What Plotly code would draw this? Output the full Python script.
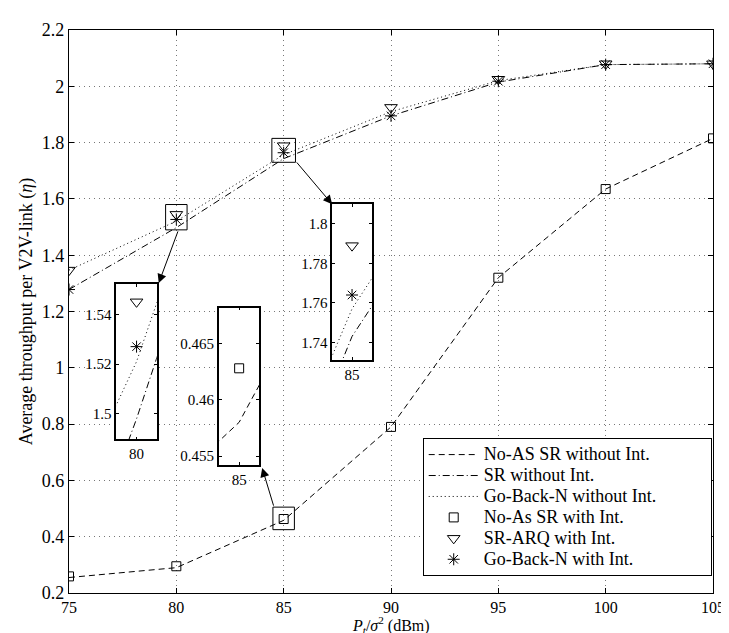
import plotly.graph_objects as go

# ---- data ----
snr_db = [75, 80, 85, 90, 95, 100, 105]
noas_sr_no_int = [0.255, 0.29, 0.458, 0.79, 1.32, 1.635, 1.815]
sr_no_int = [1.278, 1.498, 1.743, 1.895, 2.015, 2.077, 2.08]
gbn_no_int = [1.347, 1.521, 1.757, 1.91, 2.02, 2.077, 2.08]
noas_sr_int = [0.259, 0.295, 0.4628, 0.79, 1.32, 1.635, 1.815]
sr_arq_int = [1.347, 1.545, 1.789, 1.925, 2.025, 2.08, 2.08]
gbn_int = [1.278, 1.527, 1.764, 1.895, 2.018, 2.077, 2.08]

x_ticks = [75, 80, 85, 90, 95, 100, 105]
y_ticks = [0.2, 0.4, 0.6, 0.8, 1.0, 1.2, 1.4, 1.6, 1.8, 2.0, 2.2]
y_tick_text = ["0.2", "0.4", "0.6", "0.8", "1", "1.2", "1.4", "1.6", "1.8", "2", "2.2"]

insetA_yticks = [1.5, 1.52, 1.54]
insetA_ytext = ["1.5", "1.52", "1.54"]
insetB_yticks = [0.455, 0.46, 0.465]
insetB_ytext = ["0.455", "0.46", "0.465"]
insetC_yticks = [1.74, 1.76, 1.78, 1.8]
insetC_ytext = ["1.74", "1.76", "1.78", "1.8"]

legend_names = ["No-AS SR without Int.", "SR without Int.", "Go-Back-N without Int.",
                "No-As SR with Int.", "SR-ARQ with Int.", "Go-Back-N with Int."]

FONT = "Liberation Serif"
DASH = "6px,4px"
DASHDOT = "7px,3px,1px,3px"
DOT = "1px,3px"
LEG_PX = 18  # legend text size


def leg(s, pad=0):
    return '<span style="font-size:%dpx">%s%s</span>' % (LEG_PX, s, "&nbsp;" * pad)


fig = go.Figure()


def add_series(xa, ya, show):
    kw = dict(xaxis=xa, yaxis=ya, showlegend=show)
    fig.add_trace(go.Scatter(x=snr_db, y=noas_sr_no_int, mode="lines", name=leg(legend_names[0]),
                             line=dict(color="black", width=1, dash=DASH), **kw))
    fig.add_trace(go.Scatter(x=snr_db, y=sr_no_int, mode="lines", name=leg(legend_names[1]),
                             line=dict(color="black", width=1, dash=DASHDOT), **kw))
    fig.add_trace(go.Scatter(x=snr_db, y=gbn_no_int, mode="lines", name=leg(legend_names[2], 11),
                             line=dict(color="black", width=1, dash=DOT), **kw))
    fig.add_trace(go.Scatter(x=snr_db, y=noas_sr_int, mode="markers", name=leg(legend_names[3]),
                             marker=dict(symbol="square-open", size=9, color="black", line=dict(width=1)), **kw))
    fig.add_trace(go.Scatter(x=snr_db, y=sr_arq_int, mode="markers", name=leg(legend_names[4]),
                             marker=dict(symbol="triangle-down-open", size=11, color="black", line=dict(width=1)), **kw))
    fig.add_trace(go.Scatter(x=snr_db, y=gbn_int, mode="markers", name=leg(legend_names[5]),
                             marker=dict(symbol="asterisk-open", size=10, color="black", line=dict(width=1)), **kw))


add_series("x", "y", True)
add_series("x2", "y2", False)
add_series("x3", "y3", False)
add_series("x4", "y4", False)

main_ax = dict(showline=True, linecolor="black", linewidth=1.3, mirror="all", ticks="inside",
               ticklen=5, tickcolor="black", showgrid=True, gridcolor="#777777", gridwidth=1,
               griddash="1px,4px", zeroline=False, tickfont=dict(family=FONT, size=18, color="black"))

inset_ax = dict(showline=True, linecolor="black", linewidth=1.8, mirror="all", ticks="inside",
                ticklen=3, tickcolor="black", showgrid=False, zeroline=False,
                tickfont=dict(family=FONT, size=15, color="black"))

fig.update_layout(
    width=729, height=633,
    margin=dict(l=61, r=15, t=13, b=48),
    paper_bgcolor="white", plot_bgcolor="white",
    font=dict(family=FONT, color="black"),
    xaxis=dict(main_ax, range=[75, 105], tickvals=x_ticks,
               tickfont=dict(family=FONT, size=16, color="black")),
    yaxis=dict(main_ax, range=[0.2, 2.2], tickvals=y_ticks, ticktext=y_tick_text,
               title=dict(text="Average throughput per V2V-link (<i>η</i>)",
                          font=dict(family=FONT, size=18), standoff=4)),
    xaxis2=dict(inset_ax, domain=[0.0735, 0.1363], anchor="y2", range=[79.5, 80.5], tickvals=[80]),
    yaxis2=dict(inset_ax, domain=[0.2727, 0.549], anchor="x2", range=[1.4897, 1.5522],
                tickvals=insetA_yticks, ticktext=insetA_ytext),
    xaxis3=dict(inset_ax, domain=[0.2328, 0.2956], anchor="y3", range=[84.95, 85.05], tickvals=[85]),
    yaxis3=dict(inset_ax, domain=[0.2273, 0.507], anchor="x3", range=[0.4542, 0.4682],
                tickvals=insetB_yticks, ticktext=insetB_ytext),
    xaxis4=dict(inset_ax, domain=[0.4089, 0.4701], anchor="y4", range=[84.5, 85.5], tickvals=[85]),
    yaxis4=dict(inset_ax, domain=[0.4143, 0.6906], anchor="x4", range=[1.7312, 1.81],
                tickvals=insetC_yticks, ticktext=insetC_ytext),
    legend=dict(x=0.998, xanchor="right", y=0.03, yanchor="bottom", bgcolor="white",
                bordercolor="black", borderwidth=1, font=dict(family=FONT, size=13.8),
                itemwidth=50, tracegroupgap=0),
)

# x-axis title (placed as annotation to sit just below the tick labels)
fig.add_annotation(text="<i>P</i><sub><i>t</i></sub>/<i>σ</i><sup>2</sup> (dBm)", xref="paper", yref="paper",
                   x=0.5, y=-0.0778, xanchor="center", yanchor="bottom", showarrow=False,
                   borderpad=0, font=dict(family=FONT, size=16, color="black"))

# zoom rectangles on the main axes
for (x0, x1, y0, y1) in [(79.5, 80.5, 1.49, 1.58), (84.45, 85.55, 1.73, 1.815), (84.5, 85.5, 0.425, 0.505)]:
    fig.add_shape(type="rect", xref="x", yref="y", x0=x0, x1=x1, y0=y0, y1=y1,
                  line=dict(color="black", width=1), fillcolor="rgba(0,0,0,0)")

# arrows from rectangles to insets
for (tx, ty, hx, hy) in [(80.1, 1.49, 79.18, 1.301), (84.55, 0.505, 84.0, 0.644), (85.55, 1.735, 87.26, 1.581)]:
    fig.add_annotation(x=hx, y=hy, ax=tx, ay=ty, xref="x", yref="y", axref="x", ayref="y",
                       text="", showarrow=True, arrowhead=2, arrowsize=1.8, arrowwidth=1,
                       arrowcolor="black", standoff=0)

fig.write_html("out.html")
